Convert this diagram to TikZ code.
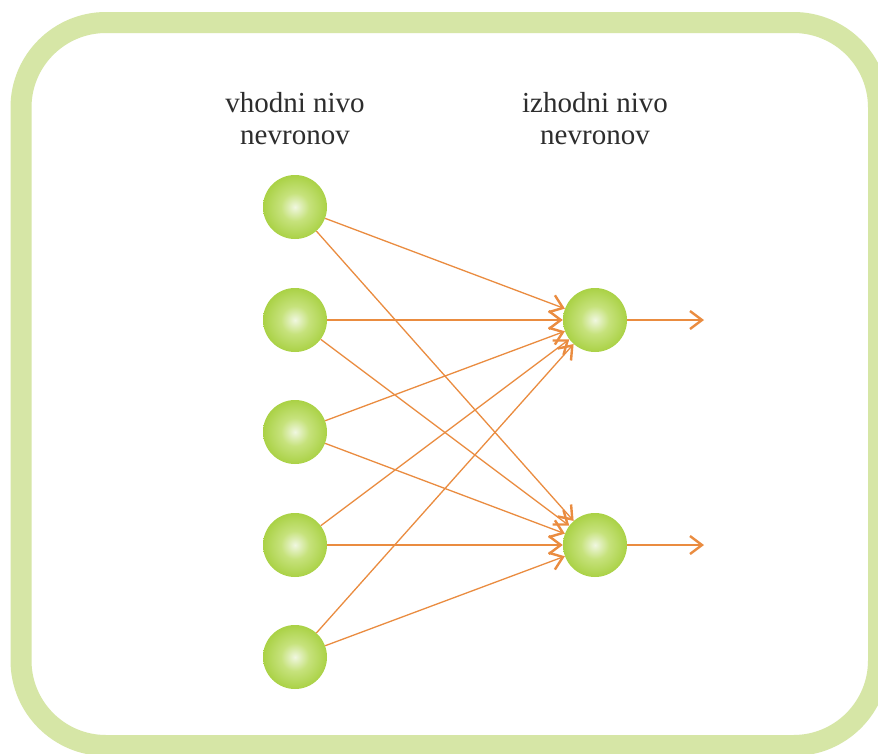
\documentclass[tikz,border=0pt]{standalone}
\usepackage{fontspec}
\setmainfont{Liberation Serif}
\usetikzlibrary{arrows.meta}
\definecolor{framegreen}{RGB}{214,230,166}
\definecolor{arroworange}{RGB}{234,140,64}
\definecolor{ballcore}{RGB}{240,247,224}
\definecolor{ballmid}{RGB}{198,226,124}
\definecolor{ballbody}{RGB}{164,206,58}
\definecolor{ballouter}{RGB}{150,197,40}
\definecolor{ballrim}{RGB}{166,207,66}
\definecolor{labelgray}{RGB}{45,45,45}
\pgfdeclareradialshading{ballshade}{\pgfpoint{0bp}{0bp}}{%
  color(0bp)=(ballcore); color(11bp)=(ballmid); color(28bp)=(ballbody);
  color(47bp)=(ballouter); color(50bp)=(ballrim)}
\tikzset{
  neuron/.style={circle, minimum size=64pt, inner sep=0pt, shading=ballshade},
  link/.style={draw=arroworange, line width=1.3pt,
    -{Straight Barb[length=12pt,width=18pt,line width=2.4pt]}},
  layertext/.style={align=center, inner sep=0pt, text=labelgray,
    font=\fontsize{29}{32}\selectfont}
}
\begin{document}
\begin{tikzpicture}[x=1pt,y=-1pt]
  \useasboundingbox (0,0) rectangle (878,753);
  \fill[white] (0,0) rectangle (878,753);
  % rounded frame
  \draw[framegreen, line width=21pt, rounded corners=85pt]
    (21,22.5) rectangle (878.5,745.5);
  % layer captions
  \node[layertext] (inlabel) at (295,119) {vhodni nivo\\nevronov};
  \node[layertext] (outlabel) at (595,119) {izhodni nivo\\nevronov};
  % input layer
  \node[neuron] (i1) at (295,207) {};
  \node[neuron] (i2) at (295,320) {};
  \node[neuron] (i3) at (295,432) {};
  \node[neuron] (i4) at (295,545) {};
  \node[neuron] (i5) at (295,657) {};
  % output layer
  \node[neuron] (o1) at (595,320) {};
  \node[neuron] (o2) at (595,545) {};
  % free ends of the output arrows
  \coordinate (e1) at (704,320);
  \coordinate (e2) at (704,545);
  % connections
  \foreach \i in {1,...,5}{
    \foreach \o in {1,2}{
      \draw[link] (i\i) -- (o\o);
    }
  }
  \draw[link] (o1) -- (e1);
  \draw[link] (o2) -- (e2);
\end{tikzpicture}
\end{document}
